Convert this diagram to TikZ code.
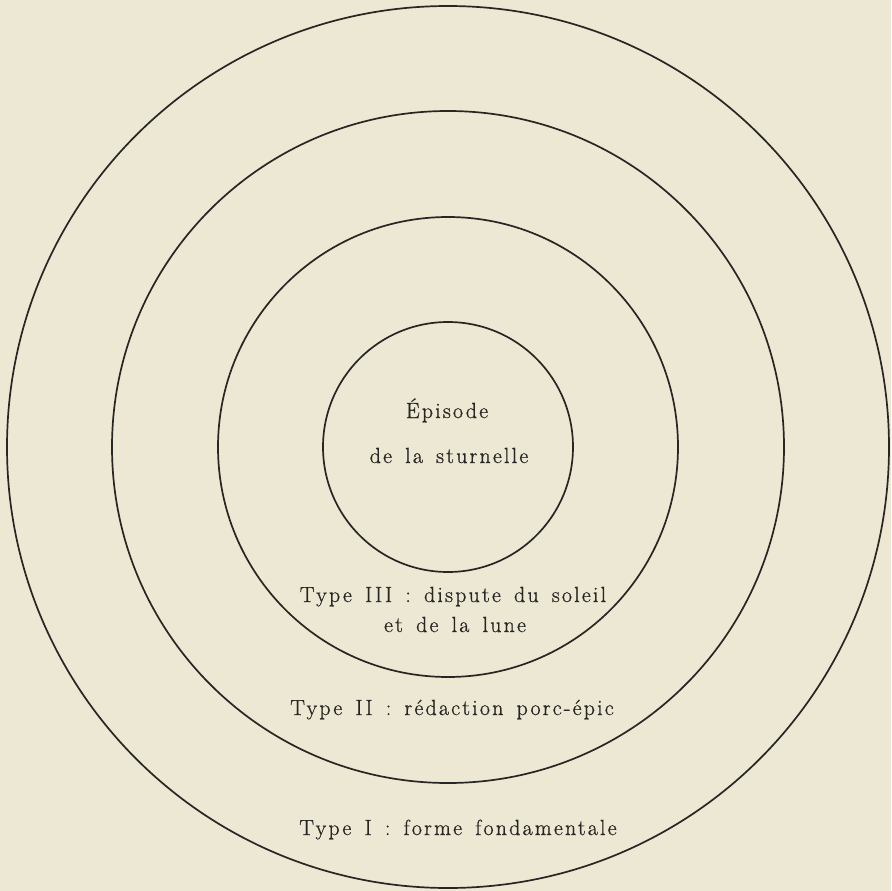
\documentclass[tikz,border=0pt]{standalone}
\usepackage{fontspec}
\newfontfamily\lblfont{Latin Modern Roman}[LetterSpace=10,WordSpace=1.5,FakeBold=0.8]
\definecolor{paper}{RGB}{236,232,211}
\definecolor{ink}{RGB}{40,38,36}
\begin{document}
\begin{tikzpicture}[x=1bp,y=-1bp,
  ring/.style={draw=ink,line width=1.7bp},
  lbl/.style={text=ink,font=\lblfont\fontsize{22}{26}\selectfont,inner sep=0pt,anchor=base}]
\fill[paper] (0,0) rectangle (891,891);
\useasboundingbox (0,0) rectangle (891,891);
\coordinate (c) at (448,447);
\draw[ring] (c) circle[radius=441];
\draw[ring] (c) circle[radius=336];
\draw[ring] (c) circle[radius=230];
\draw[ring] (c) circle[radius=125];
\node[lbl] (ep) at (447,418) {Épisode};
\node[lbl] (st) at (449,463) {de la sturnelle};
\node[lbl] (t3a) at (453,602) {Type III : dispute du soleil};
\node[lbl] (t3b) at (455,632) {et de la lune};
\node[lbl] (t2) at (452,715) {Type II : rédaction porc-épic};
\node[lbl] (t1) at (458,835) {Type I : forme fondamentale};
\end{tikzpicture}
\end{document}
